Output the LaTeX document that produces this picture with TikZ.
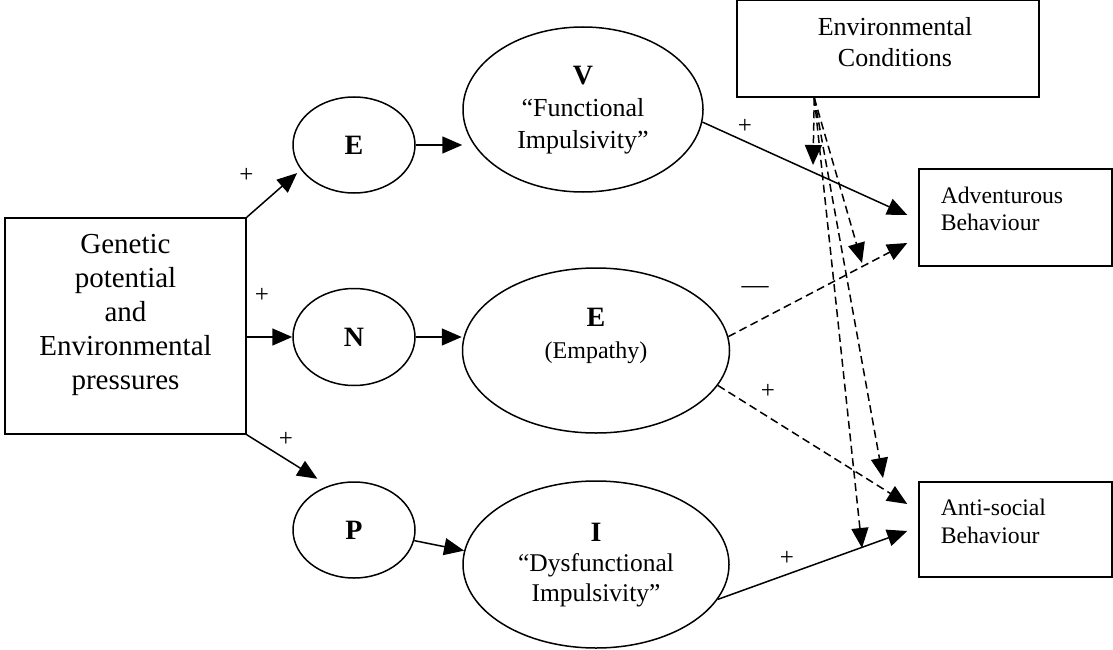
\documentclass[tikz,border=0pt]{standalone}
\usepackage{fontspec}
\setmainfont{Liberation Serif}
\usetikzlibrary{arrows.meta,shapes.geometric,calc}

\begin{document}
\begin{tikzpicture}[x=1pt,y=-1pt,
  line width=1.5pt,
  box/.style={draw, rectangle, inner sep=0pt},
  ell/.style={draw, ellipse, inner sep=0pt},
  txt/.style={inner sep=0pt, align=center},
  letter/.style={font=\bfseries\fontsize{28}{32}\selectfont},
  arr/.style={-{Triangle[length=20pt,width=17pt]}},
  darr/.style={arr, dash pattern=on 8pt off 4.5pt},
  sign/.style={inner sep=0pt, font=\fontsize{25}{25}\selectfont},
  minus/.style={inner sep=0pt, font=\fontsize{27}{27}\selectfont}
]
\useasboundingbox (0,0) rectangle (1113,650);

% boxes
\node[box, minimum width=241pt, minimum height=216pt] (gen) at (125.5,326) {};
\node[txt, font=\fontsize{29}{34}\selectfont] (gentxt) at (125.5,314.5)
  {Genetic\\potential\\and\\Environmental\\pressures};

\node[box, minimum width=302pt, minimum height=97pt] (env) at (888,48.5) {};
\node[txt, font=\fontsize{26}{31}\selectfont] (envtxt) at (895,42.5)
  {Environmental\\Conditions};

\node[box, minimum width=193pt, minimum height=97pt] (adv) at (1015.5,217.5) {};
\node[txt, align=left, anchor=west, font=\fontsize{23.7}{27}\selectfont] (advtxt)
  at (940,208.5) {Adventurous\\Behaviour};

\node[box, minimum width=193pt, minimum height=95pt] (anti) at (1015.5,529.5) {};
\node[txt, align=left, anchor=west, font=\fontsize{23.7}{28}\selectfont] (antitxt)
  at (940,521) {Anti-social\\Behaviour};

% small ellipses
\node[ell, letter, minimum width=122pt, minimum height=96pt] (e1) at (354,145) {E};
\node[ell, letter, minimum width=122pt, minimum height=97pt] (n) at (354,337) {N};
\node[ell, letter, minimum width=122pt, minimum height=96pt] (p) at (354,530) {P};

% large ellipses
\node[ell, minimum width=240pt, minimum height=165pt] (v) at (583,109.5) {};
\node[txt, font=\fontsize{26}{32}\selectfont] (vtxt) at (583,110)
  {{\bfseries\fontsize{28}{32}\selectfont V}\\“Functional\\Impulsivity”};

\node[ell, minimum width=267pt, minimum height=165pt] (emp) at (596,350.5) {};
\node[txt, font=\fontsize{24}{32}\selectfont] (emptxt) at (596,336)
  {{\bfseries\fontsize{28}{32}\selectfont E}\\(Empathy)};

\node[ell, minimum width=266pt, minimum height=167pt] (i) at (596,564.5) {};
\node[txt, font=\fontsize{25.5}{30}\selectfont] (itxt) at (596,565)
  {{\bfseries\fontsize{28}{30}\selectfont I}\\“Dysfunctional\\Impulsivity”};

% free ends next to the outcome boxes
\coordinate (advA) at ($(adv.west)+(-11,-2.5)$);
\coordinate (advB) at ($(adv.west)+(-11,25.5)$);
\coordinate (antiA) at ($(anti.west)+(-11,-25.5)$);
\coordinate (antiB) at ($(anti.west)+(-11,1.5)$);

% moderating effects of the environment
\coordinate (ec) at ($(env.south west)+(78,0)$);
\coordinate (m1) at (813,165);
\coordinate (m2) at (862,263);
\coordinate (m3) at (883,478);
\coordinate (m4) at (862,548);

% first stage
\draw[arr, shorten >=5pt] (gen.north east) -- (e1.205);
\draw[arr] (gen.east |- n.west) -- (n.west);
\draw[arr, shorten >=13pt] (gen.south east) -- (p.120);

% second stage
\draw[arr] (e1.east) -- (e1.east -| v.west);
\draw[arr] (n.east) -- (n.east -| emp.west);
\draw[arr] (p.-10) -- (i.174);

% outcomes
\draw[arr] (v.-6) -- (advA);
\draw[darr] (emp.6) -- (advB);
\draw[darr] (emp.-16) -- (antiA);
\draw[arr] (i.-16) -- (antiB);

\draw[darr] (ec) -- (m1);
\draw[darr] (ec) -- (m2);
\draw[darr] (ec) -- (m3);
\draw[darr] (ec) -- (m4);

% signs
\node[sign] (s1) at (246.5,175) {+};
\node[sign] (s2) at (262,295) {+};
\node[sign] (s3) at (286,439) {+};
\node[sign] (s4) at (745,126) {+};
\node[minus] (s5) at (755,290) {—};
\node[sign] (s6) at (768,391) {+};
\node[sign] (s7) at (787,558) {+};
\end{tikzpicture}
\end{document}
